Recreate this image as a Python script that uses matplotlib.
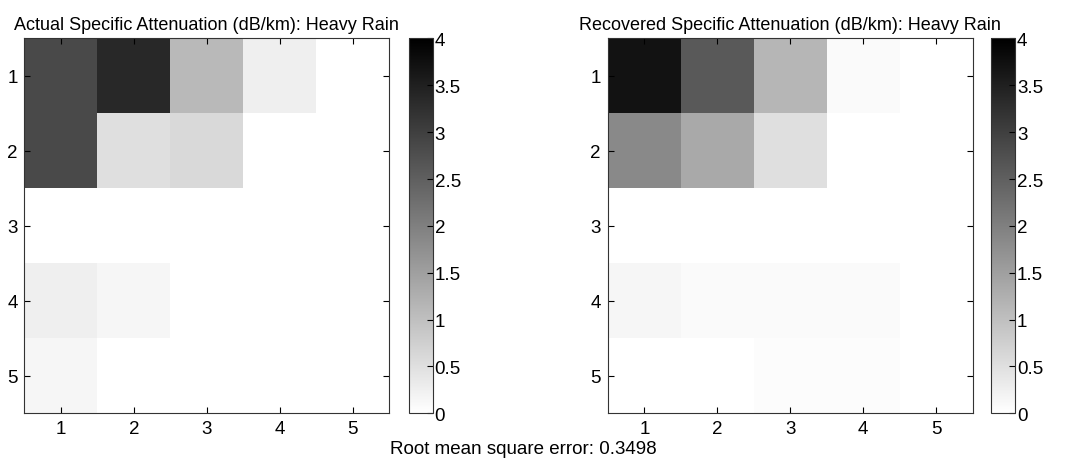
import numpy as np
import matplotlib.pyplot as plt

plt.rcParams['font.family'] = ['Liberation Sans', 'DejaVu Sans']

# specific attenuation (dB/km), 5x5 grid, rows top->bottom
actual = [[2.85, 3.35, 1.10, 0.25, 0.00],
          [2.85, 0.50, 0.60, 0.00, 0.00],
          [0.00, 0.00, 0.00, 0.00, 0.00],
          [0.25, 0.15, 0.00, 0.00, 0.00],
          [0.15, 0.00, 0.00, 0.00, 0.00]]
recovered = [[3.70, 2.60, 1.15, 0.08, 0.00],
             [1.85, 1.35, 0.50, 0.00, 0.00],
             [0.00, 0.00, 0.00, 0.00, 0.00],
             [0.15, 0.08, 0.08, 0.08, 0.00],
             [0.00, 0.00, 0.05, 0.05, 0.00]]
titles = ['Actual Specific Attenuation (dB/km): Heavy Rain',
          'Recovered Specific Attenuation (dB/km): Heavy Rain']
rmse = 0.3498
ticks = [1, 2, 3, 4, 5]
cb_ticks = [0, 0.5, 1, 1.5, 2, 2.5, 3, 3.5, 4]

fig = plt.figure(figsize=(10.73, 4.64), dpi=100)

ax_pos = [[0.0228, 0.107, 0.340, 0.808], [0.5665, 0.107, 0.340, 0.808]]
cb_pos = [[0.381, 0.107, 0.0228, 0.808], [0.9236, 0.107, 0.0228, 0.808]]

for data, title, ap, cp in zip([actual, recovered], titles, ax_pos, cb_pos):
    ax = fig.add_axes(ap)
    im = ax.imshow(np.array(data), cmap='gray_r', vmin=0, vmax=4,
                   extent=[0.5, 5.5, 5.5, 0.5], aspect='auto', interpolation='nearest')
    ax.set_xticks(ticks)
    ax.set_yticks(ticks)
    ax.tick_params(direction='in', top=True, right=True, length=4, labelsize=13.5, width=0.8, pad=5)
    for s in ax.spines.values():
        s.set_linewidth(0.8)
        s.set_color('#333333')
    ax.set_title(title, fontsize=13, pad=7)
    cax = fig.add_axes(cp)
    cb = fig.colorbar(im, cax=cax, ticks=cb_ticks)
    cb.ax.set_yticklabels(['0', '0.5', '1', '1.5', '2', '2.5', '3', '3.5', '4'])
    cb.ax.tick_params(direction='in', length=4, labelsize=13.5, pad=1, width=0.8)
    cb.outline.set_linewidth(0.8)
    cb.outline.set_edgecolor('#333333')

fig.text(0.488, 0.022, 'Root mean square error: %.4f' % rmse, ha='center', fontsize=13.5)

fig.savefig('out.png', dpi=100)
